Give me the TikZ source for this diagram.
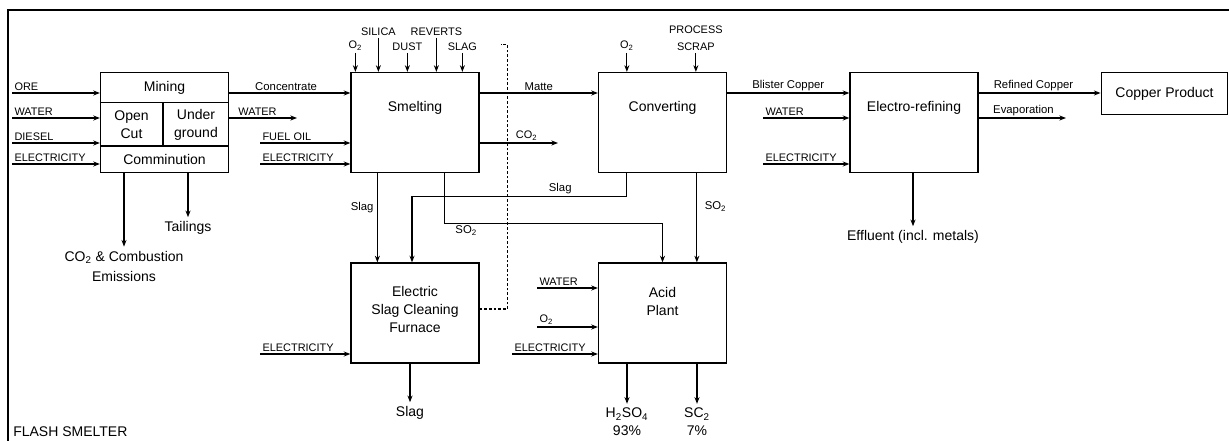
\documentclass[tikz,border=0pt]{standalone}
\usepackage{fontspec}
\setmainfont{Liberation Sans}
\usetikzlibrary{arrows.meta,calc}

\begin{document}
\begin{tikzpicture}[x=0.75pt,y=-0.75pt,
    unit/.style={draw,line width=0.95pt,minimum width=96pt,minimum height=75pt,inner sep=0pt},
    flow/.style={line width=0.85pt,-{Stealth[length=5pt,width=3.8pt]}},
    caps/.style={font=\fontsize{8.2}{9}\selectfont,inner sep=1.5pt},
    lab/.style={font=\fontsize{8.5}{10}\selectfont,inner sep=1.5pt},
    big/.style={font=\fontsize{10.5}{13.5}\selectfont,align=center,inner sep=0pt},
    outlab/.style={big,inner sep=3pt}]
	\useasboundingbox (0,0) rectangle (1229,441);
	\draw[line width=0.95pt] (1229,10) -- (8,10) -- (8,441);
	% process units
	\node[unit] (mine) at (164.5,122.5) {};
	\node[unit] (smelt) at (415,122.5) {};
	\node[unit] (conv) at (662.5,122.5) {};
	\node[unit] (elec) at (914,122.5) {};
	\node[unit,big,minimum width=95pt,minimum height=32pt] (prod) at (1164.5,93.5) {Copper Product};
	\node[unit] (esc) at (415,313) {};
	\node[unit] (acid) at (662.5,313) {};
	\draw[line width=0.95pt] ($(mine.north west)+(0,31)$) -- ($(mine.north east)+(0,31)$);
	\draw[line width=0.95pt] ($(mine.south west)+(0,-27)$) -- ($(mine.south east)+(0,-27)$);
	\draw[line width=0.95pt] ($(mine.north)+(-1.5,31)$) -- ($(mine.south)+(-1.5,-27)$);
	\node[big] (mine-t) at (164.5,88) {Mining};
	\node[big] (open-t) at (131.5,125) {Open\\Cut};
	\node[big] (under-t) at (196,125) {Under\\ground};
	\node[big] (comm-t) at (164.5,160) {Comminution};
	\node[big] (smelt-t) at (415,108) {Smelting};
	\node[big] (conv-t) at (662.5,108) {Converting};
	\node[big] (elec-t) at (914,108) {Electro-refining};
	\node[big] (esc-t) at (415,309) {Electric\\Slag Cleaning\\Furnace};
	\node[big] (acid-t) at (662.5,301) {Acid\\Plant};
	% side inputs
	\foreach \n/\x/\y/\t/\to in {ore/12/93/ORE/mine, wat1/12/118/WATER/mine, dies/12/143/DIESEL/mine,
			ele1/12/164/ELECTRICITY/mine, fuel/260/143/FUEL OIL/smelt, ele2/260/164/ELECTRICITY/smelt,
			wat3/763/118/WATER/elec, ele3/763/164/ELECTRICITY/elec, ele5/260/354/ELECTRICITY/esc,
			wat4/537/288/WATER/acid, oxy4/537/327/O\textsubscript{2}/acid, ele4/512/354/ELECTRICITY/acid} {
		\coordinate (\n) at (\x,\y);
		\draw[flow] (\n) -- (\n -| \to.west) node[caps,above right,pos=0] (\n-t) {\t};
	}
	% top inputs
	\foreach \dx/\len/\t [count=\i] in {5/19/O\textsubscript{2}, 28/34/SILICA, 57/19/DUST, 86/34/REVERTS, 112/19/SLAG} {
		\coordinate (sin\i) at ($(smelt.north west)+(\dx,-\len)$);
		\draw[flow] (sin\i) -- (sin\i |- smelt.north);
		\node[caps,anchor=south] (sin\i-t) at (sin\i) {\t};
	}
	\coordinate (cin1) at ($(conv.north west)+(29,-19)$);
	\coordinate (cin2) at ($(conv.north west)+(98,-19)$);
	\draw[flow] (cin1) -- (cin1 |- conv.north);
	\draw[flow] (cin2) -- (cin2 |- conv.north);
	\node[caps,anchor=south] (cin1-t) at (cin1) {O\textsubscript{2}};
	\node[caps,anchor=south,align=center,font=\fontsize{8.2}{12.5}\selectfont] (cin2-t) at (cin2) {PROCESS\\SCRAP};
	% main line
	\draw[flow] (ore -| mine.east) -- (ore -| smelt.west) node[lab,above,pos=.47] (conc-t) {Concentrate};
	\draw[flow] (ore -| smelt.east) -- (ore -| conv.west) node[lab,above,midway] (matte-t) {Matte};
	\draw[flow] (ore -| conv.east) -- (ore -| elec.west) node[lab,above,midway] (blis-t) {Blister Copper};
	\draw[flow] (ore -| elec.east) -- (ore -| prod.west) node[lab,above,pos=.45] (ref-t) {Refined Copper};
	% side outputs
	\coordinate (wat2) at (297,118);
	\coordinate (co2) at (558,143);
	\coordinate (evap) at (1066,118);
	\draw[flow] (wat2 -| mine.east) -- (wat2) node[caps,above right,pos=0,xshift=5pt] (wat2-t) {WATER};
	\draw[flow] (co2 -| smelt.east) -- (co2) node[caps,above,pos=.6] (co2-t) {CO\textsubscript{2}};
	\draw[flow] (evap -| elec.east) -- (evap) node[lab,above right,pos=0,xshift=9pt] (evap-t) {Evaporation};
	% bottom outputs
	\node[outlab] (emis) at (124,266) {CO\textsubscript{2} \& Combustion\\[1.5pt]Emissions};
	\node[outlab] (tail) at (188,228) {Tailings};
	\node[outlab] (effl) at (913,237) {Effluent (incl. metals)};
	\node[outlab] (slag) at (410,413) {Slag};
	\node[outlab] (h2so4) at (627,422) {H\textsubscript{2}SO\textsubscript{4}\\93\%};
	\node[outlab] (sc2) at (697,422) {SC\textsubscript{2}\\7\%};
	\draw[flow] (mine.south -| emis) -- (emis.north);
	\draw[flow] (mine.south -| tail) -- (tail.north);
	\draw[flow] (elec.south -| effl) -- (effl.north);
	\draw[flow] (esc.south -| slag) -- (slag.north);
	\draw[flow] (acid.south -| h2so4) -- (h2so4.north);
	\draw[flow] (acid.south -| sc2) -- (sc2.north);
	% recycle and gas streams
	\draw[flow] ($(smelt.south west)+(27,0)$) -- ($(esc.north west)+(27,0)$)
		node[lab,left,pos=.39,xshift=-1pt] (slag1-t) {Slag};
	\draw[flow] ($(smelt.south west)+(94,0)$) |- ($(acid.north)+(0,-39)$)
		node[lab,below,pos=.55] (so2a-t) {SO\textsubscript{2}} -- (acid.north);
	\draw[flow] ($(conv.south west)+(29,0)$) |- ($(esc.north)+(-3,-66)$)
		node[lab,above,pos=.655] (slag2-t) {Slag} -- ($(esc.north)+(-3,0)$);
	\draw[flow] ($(conv.south west)+(99,0)$) -- ($(acid.north west)+(99,0)$)
		node[lab,right,pos=.37,xshift=4pt] (so2b-t) {SO\textsubscript{2}};
	\draw[line width=0.85pt,dash pattern=on 2pt off 1.5pt] ($(esc.east)+(0,-4)$) -| ($(smelt.north east)+(28,-27)$) -- ++(-7,0);
	\node[big,anchor=west] (title) at (13,432) {FLASH SMELTER};
\end{tikzpicture}
\end{document}
